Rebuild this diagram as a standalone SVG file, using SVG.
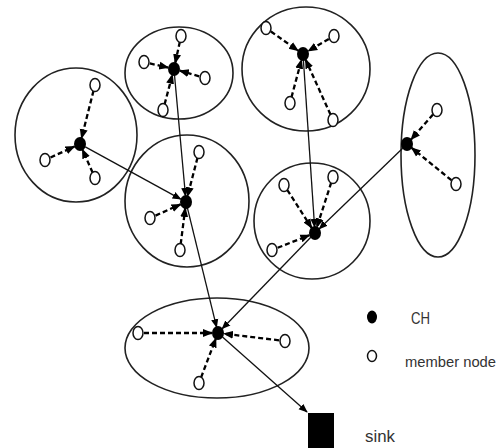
<svg xmlns="http://www.w3.org/2000/svg" width="501" height="448" viewBox="0 0 501 448">
<style>
.cl{fill:none;stroke:#222;stroke-width:1.6}
.ch{fill:#000}
.mn{fill:#fff;stroke:#111;stroke-width:1.5}
.d{stroke:#000;stroke-width:2.3;stroke-dasharray:5 3;fill:none;marker-end:url(#ah)}
.s{stroke:#111;stroke-width:1.3;fill:none;marker-end:url(#as)}
text{font-family:"Liberation Sans",Arial,sans-serif;fill:#333}
</style>
<defs>
<marker id="ah" markerUnits="userSpaceOnUse" markerWidth="10" markerHeight="10" viewBox="0 0 10 10" refX="9" refY="5" orient="auto"><path d="M0,1 L10,5 L0,9 Z" fill="#000"/></marker>
<marker id="as" markerUnits="userSpaceOnUse" markerWidth="9" markerHeight="9" viewBox="0 0 10 10" refX="9" refY="5" orient="auto"><path d="M0,1 L10,5 L0,9 Z" fill="#000"/></marker>
</defs>
<rect width="501" height="448" fill="#fff"/>
<g id="clusters">
<ellipse class="cl" cx="76" cy="135" rx="61" ry="67"/>
<ellipse class="cl" cx="179" cy="73" rx="54" ry="46"/>
<ellipse class="cl" cx="306" cy="69" rx="64" ry="62"/>
<ellipse class="cl" cx="438" cy="155" rx="37" ry="102"/>
<ellipse class="cl" cx="187" cy="201" rx="62" ry="66"/>
<ellipse class="cl" cx="312" cy="221" rx="58" ry="58"/>
<ellipse class="cl" cx="217" cy="348" rx="92" ry="50"/>
</g>
<g id="connectors">
<line class="d" x1="93.5" y1="90.8" x2="81.5" y2="138.2"/>
<line class="d" x1="50.5" y1="157.5" x2="74.5" y2="146.5"/>
<line class="d" x1="92.6" y1="172.5" x2="82.4" y2="149.5"/>
<line class="d" x1="179.8" y1="41.9" x2="175.2" y2="63.1"/>
<line class="d" x1="149.8" y1="63.4" x2="168.2" y2="67.6"/>
<line class="d" x1="199.2" y1="76.3" x2="179.8" y2="70.7"/>
<line class="d" x1="164.6" y1="104.2" x2="172.4" y2="74.8"/>
<line class="d" x1="270.9" y1="31.5" x2="298.1" y2="50.6"/>
<line class="d" x1="328.8" y1="39" x2="308.2" y2="51"/>
<line class="d" x1="291.5" y1="97.2" x2="301.5" y2="59.8"/>
<line class="d" x1="330.5" y1="114.5" x2="305.5" y2="59.5"/>
<line class="d" x1="433" y1="114.5" x2="411" y2="139.5"/>
<line class="d" x1="451.4" y1="180.2" x2="411.6" y2="147.8"/>
<line class="d" x1="197.5" y1="157.8" x2="187.5" y2="196.2"/>
<line class="d" x1="155.5" y1="215.6" x2="180.5" y2="204.4"/>
<line class="d" x1="180.7" y1="244" x2="185.3" y2="208"/>
<line class="d" x1="287.3" y1="190" x2="311.7" y2="228"/>
<line class="d" x1="331.2" y1="182.7" x2="316.8" y2="227.3"/>
<line class="d" x1="277.6" y1="247.8" x2="309.4" y2="235.2"/>
<line class="d" x1="144" y1="333" x2="212" y2="333"/>
<line class="d" x1="279" y1="340.3" x2="224" y2="333.7"/>
<line class="d" x1="201.1" y1="377.4" x2="215.9" y2="338.4"/>
<line class="s" x1="85.3" y1="146.9" x2="180.7" y2="199.1"/>
<line class="s" x1="174.5" y1="75" x2="185.5" y2="196"/>
<line class="s" x1="303.4" y1="60" x2="314.6" y2="227"/>
<line class="s" x1="402.7" y1="148.2" x2="319.3" y2="228.8"/>
<line class="s" x1="187.4" y1="207.8" x2="216.6" y2="327.2"/>
<line class="s" x1="310.8" y1="237.3" x2="222.2" y2="328.7"/>
<line class="s" x1="222.5" y1="337" x2="307" y2="412"/>
</g>
<g id="ch-nodes">
<ellipse class="ch" cx="80" cy="144" rx="6" ry="7"/>
<ellipse class="ch" cx="174" cy="69" rx="6" ry="7"/>
<ellipse class="ch" cx="303" cy="54" rx="6" ry="7"/>
<ellipse class="ch" cx="407" cy="144" rx="6" ry="7"/>
<ellipse class="ch" cx="186" cy="202" rx="6" ry="7"/>
<ellipse class="ch" cx="315" cy="233" rx="6" ry="7"/>
<ellipse class="ch" cx="218" cy="333" rx="6" ry="7"/>
</g>
<g id="member-nodes">
<ellipse class="mn" cx="95" cy="85" rx="5" ry="6.5"/>
<ellipse class="mn" cx="45" cy="160" rx="5" ry="6.5"/>
<ellipse class="mn" cx="95" cy="178" rx="5" ry="6.5"/>
<ellipse class="mn" cx="181" cy="36" rx="5" ry="6.5"/>
<ellipse class="mn" cx="144" cy="62" rx="5" ry="6.5"/>
<ellipse class="mn" cx="205" cy="78" rx="5" ry="6.5"/>
<ellipse class="mn" cx="163" cy="110" rx="5" ry="6.5"/>
<ellipse class="mn" cx="266" cy="28" rx="5" ry="6.5"/>
<ellipse class="mn" cx="334" cy="36" rx="5" ry="6.5"/>
<ellipse class="mn" cx="290" cy="103" rx="5" ry="6.5"/>
<ellipse class="mn" cx="333" cy="120" rx="5" ry="6.5"/>
<ellipse class="mn" cx="437" cy="110" rx="5" ry="6.5"/>
<ellipse class="mn" cx="456" cy="184" rx="5" ry="6.5"/>
<ellipse class="mn" cx="199" cy="152" rx="5" ry="6.5"/>
<ellipse class="mn" cx="150" cy="218" rx="5" ry="6.5"/>
<ellipse class="mn" cx="180" cy="250" rx="5" ry="6.5"/>
<ellipse class="mn" cx="284" cy="185" rx="5" ry="6.5"/>
<ellipse class="mn" cx="333" cy="177" rx="5" ry="6.5"/>
<ellipse class="mn" cx="272" cy="250" rx="5" ry="6.5"/>
<ellipse class="mn" cx="138" cy="333" rx="5" ry="6.5"/>
<ellipse class="mn" cx="285" cy="341" rx="5" ry="6.5"/>
<ellipse class="mn" cx="199" cy="383" rx="5" ry="6.5"/>
</g>
<g id="sink">
<rect x="308" y="413" width="26" height="35" fill="#000"/>
</g>
<g id="legend">
<ellipse class="ch" cx="372" cy="317" rx="5" ry="6.5"/>
<text x="411" y="324" font-size="17" textLength="19" lengthAdjust="spacingAndGlyphs">CH</text>
<ellipse class="mn" cx="372" cy="356" rx="4.5" ry="5.5"/>
<text x="405" y="367" font-size="15" textLength="91" lengthAdjust="spacingAndGlyphs">member node</text>
<text x="365" y="442" font-size="17" textLength="30" lengthAdjust="spacingAndGlyphs">sink</text>
</g>
</svg>
